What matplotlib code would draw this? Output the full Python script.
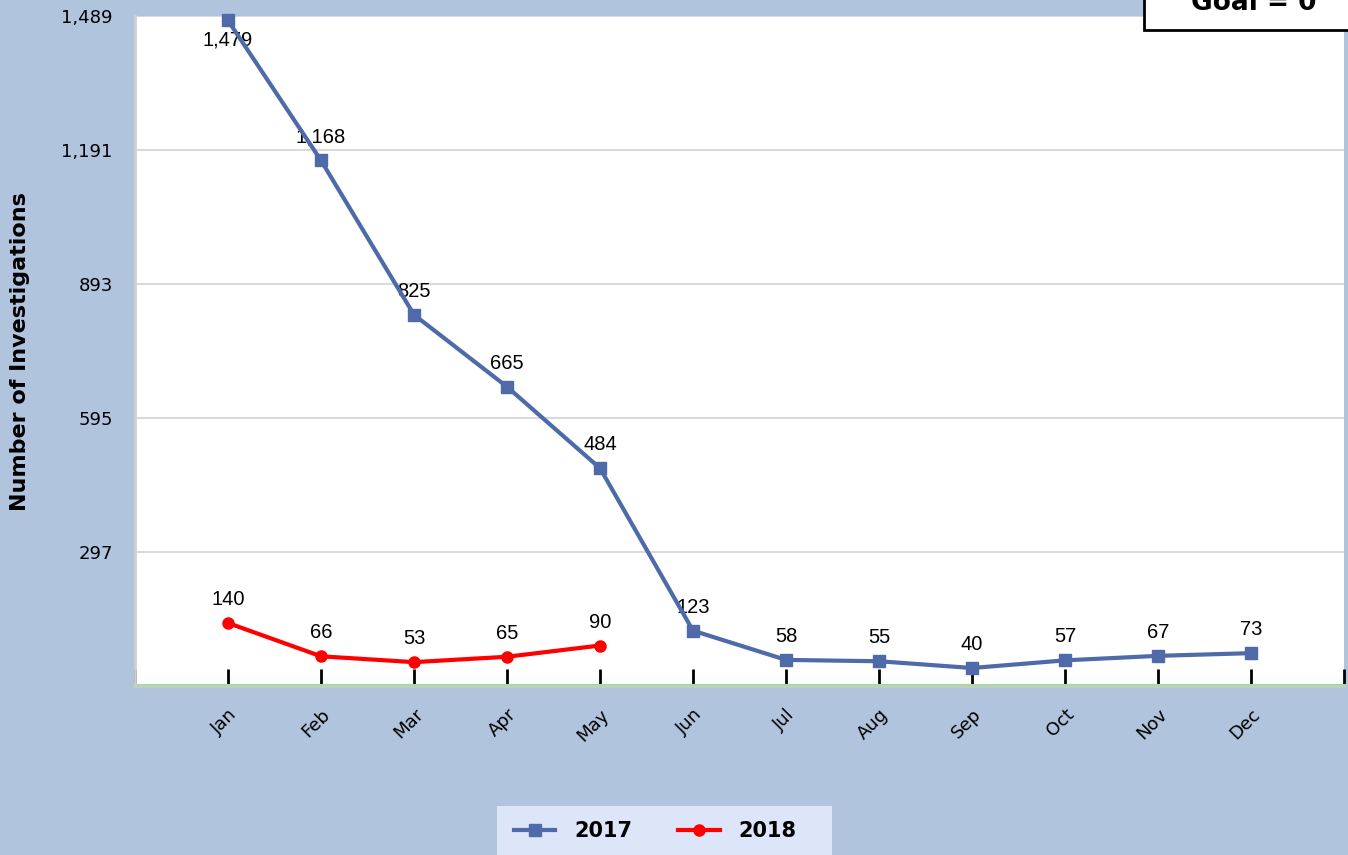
import matplotlib
matplotlib.use("Agg")
import matplotlib.pyplot as plt
import numpy as np
from matplotlib.patches import Rectangle
from matplotlib.lines import Line2D

months = ["Jan", "Feb", "Mar", "Apr", "May", "Jun", "Jul", "Aug", "Sep", "Oct", "Nov", "Dec"]
values_2017 = [1479, 1168, 825, 665, 484, 123, 58, 55, 40, 57, 67, 73]
values_2018 = [140, 66, 53, 65, 90]
y_ticks = [297, 595, 893, 1191, 1489]
y_tick_labels = ["297", "595", "893", "1,191", "1,489"]
goal_value = 0

BG = "#B0C4DE"
BLUE = "#4F6AA8"
RED = "#FF0000"

fig = plt.figure(figsize=(13.48, 8.55), dpi=100)
fig.patch.set_facecolor(BG)

W, H = 1348, 855
left, right, top, bottom = 135, 1344, 16, 686
ax = fig.add_axes([left / W, 1 - bottom / H, (right - left) / W, (bottom - top) / H])
ax.set_facecolor("white")

x17 = np.arange(len(values_2017))
x18 = np.arange(len(values_2018))

ax.set_xlim(-1, 12)
ax.set_ylim(0, 1489)

for y in y_ticks:
    ax.axhline(y, color="#DADADA", lw=1.5, zorder=1)

ax.axhline(goal_value, color="#8EE88E", lw=3, zorder=2, clip_on=False)

ax.plot(x17, values_2017, color=BLUE, lw=3, marker="s", markersize=8, zorder=4, clip_on=False)
ax.plot(x18, values_2018, color=RED, lw=3, marker="o", markersize=8, zorder=4, clip_on=False)

lab_font = dict(family="Liberation Sans", fontsize=14.5, color="black")
for i, v in enumerate(values_2017):
    s = f"{v:,}"
    if i == 0:
        ax.annotate(s, (i, v), xytext=(0, -7), textcoords="offset points", ha="center", va="top", **lab_font)
    else:
        ax.annotate(s, (i, v), xytext=(0, 10), textcoords="offset points", ha="center", va="bottom", **lab_font)
for i, v in enumerate(values_2018):
    ax.annotate(f"{v:,}", (i, v), xytext=(0, 10), textcoords="offset points", ha="center", va="bottom", **lab_font)

ax.set_yticks(y_ticks)
ax.set_yticklabels(y_tick_labels, fontsize=13, family="DejaVu Sans")
ax.tick_params(axis="y", length=0, pad=16)

ax.set_xticks(np.arange(-1, 13))
ax.set_xticklabels([""] + months + [""], rotation=45, ha="right", rotation_mode="anchor",
                   fontsize=13, family="DejaVu Sans")
ax.tick_params(axis="x", direction="in", length=12, width=2, color="black", pad=14)

for sp in ["top", "right"]:
    ax.spines[sp].set_visible(False)
ax.spines["left"].set_color("#D0D0D0")
ax.spines["left"].set_linewidth(2)
ax.spines["bottom"].set_color("#C8C8C8")
ax.spines["bottom"].set_linewidth(2)

fig.text(20 / W, 1 - 352 / H, "Number of Investigations", rotation=90, ha="center", va="center",
         fontsize=16, fontweight="bold", family="DejaVu Sans")

# Goal box (top right, partially cut off as in the reference)
fig.patches.append(Rectangle((1144 / W, 1 - 30 / H), 220 / W, 60 / H, transform=fig.transFigure,
                             facecolor="white", edgecolor="black", lw=2, zorder=5))
fig.text(1254 / W, 1 - 3 / H, "Goal = 0", ha="center", va="center", fontsize=19, fontweight="bold",
         family="DejaVu Sans", zorder=6)

# Legend box
fig.patches.append(Rectangle((497 / W, 0), 335 / W, 49 / H, transform=fig.transFigure,
                             facecolor="#DCE6F8", edgecolor="none", zorder=5))
handles = [Line2D([], [], color=BLUE, lw=3, marker="s", markersize=8),
           Line2D([], [], color=RED, lw=3, marker="o", markersize=8)]
leg = fig.legend(handles, ["2017", "2018"], loc="center", bbox_to_anchor=(655 / W, 1 - 831 / H),
                 ncol=2, frameon=False, prop=dict(family="DejaVu Sans", weight="bold", size=15),
                 handlelength=2.0, columnspacing=2.2, handletextpad=0.9)
leg.set_zorder(6)

fig.savefig("out.png", dpi=100, facecolor=BG)
